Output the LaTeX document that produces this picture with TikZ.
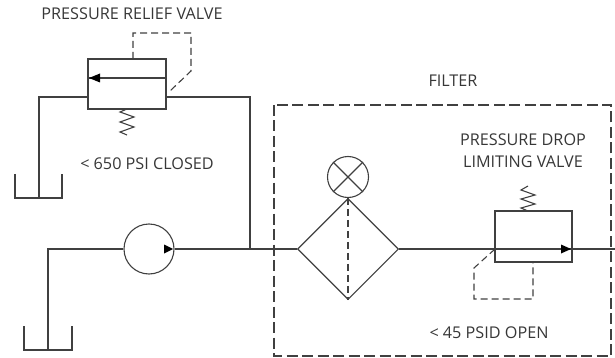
\documentclass[tikz,border=0pt]{standalone}
\usepackage{fontspec}
\setmainfont{Open Sans}
\usetikzlibrary{shapes.geometric}
\definecolor{ln}{RGB}{64,64,64}
\definecolor{tx}{RGB}{55,55,55}
\begin{document}
\begin{tikzpicture}[x=1pt,y=-1pt,
  line/.style={draw=ln,line width=1.1pt},
  pilot/.style={draw=ln,line width=1.1pt,dash pattern=on 7pt off 4pt},
  boxdash/.style={draw=ln,line width=1.1pt,dash pattern=on 11pt off 4.5pt},
  vbox/.style={line,rectangle,inner sep=0pt},
  lbl/.style={text=tx,font=\fontsize{16.2}{22}\selectfont,inner sep=0pt,align=center},
  tip/.style={fill=black}]
\useasboundingbox (0,0) rectangle (615,358);
% relief valve
\node[vbox,minimum width=78pt,minimum height=50pt] (rv) at (127,84) {};
\node[lbl] (t1) at (132,14) {PRESSURE RELIEF VALVE};
\node[lbl] (t2) at (147,164) {< 650 PSI CLOSED};
\coordinate (rvl) at (88,97);
\coordinate (rvr) at (166,97);
\draw[line] (166,78) -- (88,78);
\fill[tip] (89,78) -- (100,73.5) -- (100,82.5) -- cycle;
\draw[line] (127,109) -- (120,112) -- (134,117) -- (120,122) -- (134,127) -- (120,132) -- (127,135);
\draw[pilot] (133,59) -- (133,33) -- (191,33) -- (191,71) -- (170,91);
% tank 1
\coordinate (tk1) at (39,198);
\draw[line] (15,174) -- (15,198) -- (62,198) -- (62,174);
\draw[line] (rvl) -- (39,97) -- (tk1);
% pump
\node[line,circle,minimum size=50pt,inner sep=0pt] (pump) at (149,249) {};
\fill[tip] (173,249) -- (164,244.5) -- (164,253.5) -- cycle;
\coordinate (tk2) at (48,350);
\draw[line] (24,326) -- (24,350) -- (72,350) -- (72,326);
\draw[line] (pump.west) -- (48,249) -- (tk2);
\coordinate (jn) at (250,249);
\draw[line] (rvr) -- (250,97) -- (jn);
% filter
\draw[boxdash] (274,105) rectangle (611,356);
\node[lbl] (t3) at (453,81) {FILTER};
\node[line,diamond,minimum width=101pt,minimum height=101pt,inner sep=0pt] (flt) at (348,249) {};
\draw[pilot] (flt.north) -- (flt.south);
\node[line,circle,minimum size=41pt,inner sep=0pt] (ind) at (348,177) {};
\draw[line] (ind.45) -- (ind.225) (ind.135) -- (ind.-45);
\draw[line] (pump.east) -- (jn) -- (flt.west);
% pressure drop valve
\node[vbox,minimum width=77pt,minimum height=51pt] (pd) at (533.5,236.5) {};
\node[lbl] (t4) at (523,151) {PRESSURE DROP\\LIMITING VALVE};
\node[lbl] (t5) at (489,333) {< 45 PSID OPEN};
\coordinate (out) at (615,249);
\draw[line] (flt.east) -- (out);
\fill[tip] (571,249) -- (561,244.5) -- (561,253.5) -- cycle;
\draw[line] (528,211) -- (521,208) -- (535,204) -- (521,199) -- (535,195) -- (521,190) -- (528,186);
\draw[pilot] (495,249) -- (474,268) -- (474,299) -- (533,299) -- (533,262);
\end{tikzpicture}
\end{document}
